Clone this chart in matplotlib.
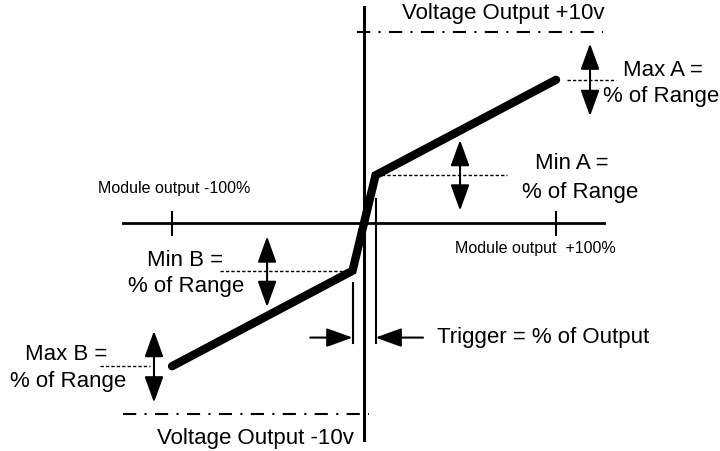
import matplotlib.pyplot as plt
from matplotlib.patches import FancyArrowPatch

plt.rcParams['font.family'] = ['Liberation Sans', 'DejaVu Sans']
plt.rcParams['lines.scale_dashes'] = False

# transfer curve: module output (%) -> voltage output (V)
curve_x = [-100, -6, 6, 100]
curve_y = [-7.5, -2.5, 2.5, 7.5]

v_max = 10
pct_max = 100
trigger = 6
max_a, min_a, min_b, max_b = 7.5, 2.5, -2.5, -7.5

big = 16
small = 11.5
dashdot = (0, (9.5, 6, 1.5, 6))
leader = (0, (2.4, 1.5))


def dbl_arrow(ax, x, y0, y1):
    ax.add_patch(FancyArrowPatch((x, y0), (x, y1),
                 arrowstyle='<|-|>,head_length=0.8,head_width=0.29',
                 mutation_scale=20, lw=1.5, color='k',
                 shrinkA=0, shrinkB=0))


def one_arrow(ax, x0, x1, y):
    ax.add_patch(FancyArrowPatch((x0, y), (x1, y),
                 arrowstyle='-|>,head_length=0.8,head_width=0.29',
                 mutation_scale=20, lw=1.5, color='k',
                 shrinkA=0, shrinkB=0))


def main():
    fig = plt.figure(figsize=(7.2, 4.51), dpi=100)
    ax = fig.add_axes([0, 0, 1, 1])
    ax.set_xlim(-189.6, 185.4)
    ax.set_ylim(-11.94, 11.68)
    ax.axis('off')

    # axes
    ax.plot([-125.5, 125], [0, 0], c='k', lw=2)
    ax.plot([0, 0], [-11.35, 11.3], c='k', lw=2.2)
    for t in (-pct_max, pct_max):
        ax.plot([t, t], [-0.65, 0.6], c='k', lw=1.5)

    # +/-10v limits
    ax.plot([-3.6, 124.5], [v_max, v_max], c='k', lw=1.5, ls=dashdot)
    ax.plot([-125.5, 2.6], [-v_max, -v_max], c='k', lw=1.5, ls=dashdot)

    # curve
    ax.plot(curve_x, curve_y, c='k', lw=6, solid_capstyle='round',
            solid_joinstyle='miter')

    # leaders
    ax.plot([105.7, 131], [max_a, max_a], c='k', lw=1.0, ls=leader)
    ax.plot([trigger, 74.5], [min_a, min_a], c='k', lw=1.0, ls=leader)
    ax.plot([-75, -trigger - 1.5], [min_b, min_b], c='k', lw=1.0, ls=leader)
    ax.plot([-137.5, -111.5], [max_b, max_b], c='k', lw=1.0, ls=leader)

    dbl_arrow(ax, 117.7, max_a + 1.9, max_a - 1.9)
    dbl_arrow(ax, 50, min_a + 1.85, min_a - 1.85)
    dbl_arrow(ax, -50.5, min_b + 1.8, min_b - 1.9)
    dbl_arrow(ax, -109.4, max_b + 1.85, max_b - 1.9)

    # trigger band
    ax.plot([-trigger, -trigger], [-3.14, -6.28], c='k', lw=1.5)
    ax.plot([trigger, trigger], [1.26, -6.28], c='k', lw=1.5)
    one_arrow(ax, -28, -trigger, -6.0)
    one_arrow(ax, 30.7, trigger, -6.0)

    # labels
    ax.text(72.4, 10.95, 'Voltage Output +10v', fontsize=big, ha='center', va='center')
    ax.text(-56.8, -11.3, 'Voltage Output -10v', fontsize=big, ha='center', va='center')
    ax.text(-99, 1.83, 'Module output -100%', fontsize=small, ha='center', va='center')
    ax.text(89, -1.31, 'Module output  +100%', fontsize=small, ha='center', va='center')
    ax.text(38, -5.97, 'Trigger = % of Output', fontsize=big, ha='left', va='center')
    ax.text(134.9, 8.01, 'Max A =', fontsize=big, ha='left', va='center')
    ax.text(124.5, 6.6, '% of Range', fontsize=big, ha='left', va='center')
    ax.text(89, 3.14, 'Min A =', fontsize=big, ha='left', va='center')
    ax.text(82.3, 1.62, '% of Range', fontsize=big, ha='left', va='center')
    ax.text(-113, -1.94, 'Min B =', fontsize=big, ha='left', va='center')
    ax.text(-122.9, -3.35, '% of Range', fontsize=big, ha='left', va='center')
    ax.text(-176.6, -6.91, 'Max B =', fontsize=big, ha='left', va='center')
    ax.text(-184.4, -8.32, '% of Range', fontsize=big, ha='left', va='center')

    fig.savefig('out.png', dpi=100)


if __name__ == "__main__":
    main()
